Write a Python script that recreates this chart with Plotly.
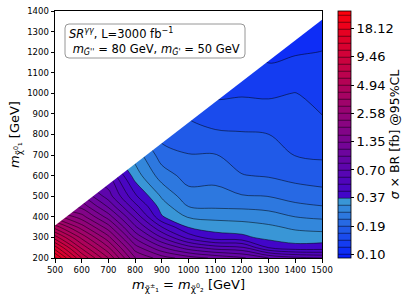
import numpy as np
import plotly.graph_objects as go

# ---------------- data ----------------
m_chargino = [500, 600, 700, 800, 900, 1000, 1100, 1200, 1300, 1400, 1500]
m_neutralino = [200, 250, 300, 350, 400, 450, 500, 600, 700, 800, 900,
                1000, 1100, 1200, 1300, 1400]

# 95% CL upper limit on sigma x BR [fb]; rows follow m_neutralino, columns m_chargino
limit_200 = [19.0, 8.0, 4.2, 1.87, 1.46, 1.24, 1.11, 1.0, 0.827, 0.74, 0.703]
limit_250 = [12.0, 5.6, 3.1, 1.46, 1.0, 0.76, 0.65, 0.617, 0.432, 0.388, 0.392]
limit_300 = [7.4, 4.0, 2.3, 1.11, 0.70, 0.476, 0.392, 0.382, 0.348, 0.339, 0.341]
limit_350 = [4.6, 2.8, 1.7, 0.855, 0.51, 0.364, 0.344, 0.335, 0.322, 0.302, 0.291]
limit_400 = [2.8, 2.0, 1.25, 0.68, 0.373, 0.307, 0.297, 0.294, 0.284, 0.265, 0.258]
limit_450 = [None, 1.5, 0.95, 0.54, 0.339, 0.265, 0.259, 0.257, 0.252, 0.235, 0.227]
limit_500 = [None, 1.15, 0.76, 0.446, 0.305, 0.24, 0.24, 0.228, 0.225, 0.211, 0.205]
limit_600 = [None, None, 0.60, 0.339, 0.245, 0.211, 0.213, 0.193, 0.189, 0.181, 0.176]
limit_700 = [None, None, None, 0.292, 0.208, 0.193, 0.193, 0.178, 0.175, 0.162, 0.159]
limit_800 = [None, None, None, None, 0.180, 0.172, 0.169, 0.165, 0.163, 0.154, 0.148]
limit_900 = [None, None, None, None, None, 0.160, 0.145, 0.150, 0.148, 0.146, 0.138]
limit_1000 = [None, None, None, None, None, None, 0.136, 0.136, 0.135, 0.139, 0.131]
limit_1100 = [None, None, None, None, None, None, None, 0.128, 0.123, 0.126, 0.124]
limit_1200 = [None, None, None, None, None, None, None, None, 0.112, 0.116, 0.118]
limit_1300 = [None, None, None, None, None, None, None, None, None, 0.110, 0.112]
limit_1400 = [None, None, None, None, None, None, None, None, None, None, 0.107]

limit_rows = [limit_200, limit_250, limit_300, limit_350, limit_400, limit_450,
              limit_500, limit_600, limit_700, limit_800, limit_900, limit_1000,
              limit_1100, limit_1200, limit_1300, limit_1400]

cbar_tick_values = [0.10, 0.19, 0.37, 0.70, 1.35, 2.58, 4.94, 9.46, 18.12]
cbar_tick_labels = ["0.10", "0.19", "0.37", "0.70", "1.35", "2.58", "4.94", "9.46", "18.12"]

mass_gap = 142  # kinematic edge of the scanned grid (GeV)

# ---------------- figure ----------------
z = np.log10(np.array(limit_rows, dtype=float))

lo = np.log10(cbar_tick_values[0])
hi = np.log10(cbar_tick_values[-1])
step = (hi - lo) / 32.0
top = lo + 34 * step

cut = 0.243
colorscale = [
    [0.0, "rgb(8,30,250)"],
    [cut, "rgb(60,158,212)"],
    [cut, "rgb(62,6,205)"],
    [1.0, "rgb(252,0,12)"],
]

FONT = "DejaVu Sans"

fig = go.Figure()
fig.add_trace(go.Contour(
    x=m_chargino, y=m_neutralino, z=z,
    connectgaps=True,
    colorscale=colorscale,
    contours=dict(start=lo, end=top, size=step, coloring="fill", showlines=True),
    line=dict(color="black", width=0.5),
    hoverinfo="skip",
    colorbar=dict(
        x=1.06, xanchor="left", xpad=0,
        y=0.5, yanchor="middle", len=1.0, lenmode="fraction", ypad=0,
        thickness=13,
        outlinecolor="black", outlinewidth=0.8,
        tickmode="array",
        tickvals=list(np.log10(cbar_tick_values)),
        ticktext=cbar_tick_labels,
        ticks="outside", ticklen=3, tickcolor="black",
        ticklabeloverflow="allow",
        tickfont=dict(family=FONT, size=13, color="black"),
        title=dict(text="<i>σ</i> × BR [fb] @95%CL", side="right",
                   font=dict(family=FONT, size=12.5, color="black")),
    ),
))

# white mask above the kinematic edge
x0, x1 = m_chargino[0] - 100, m_chargino[-1] + 100
ytop = m_neutralino[-1] + 100
fig.add_trace(go.Scatter(
    x=[x0, x1, x1, x0], y=[x0 - mass_gap, x1 - mass_gap, ytop, ytop],
    mode="lines", fill="toself", fillcolor="white",
    line=dict(width=0, color="white"),
    hoverinfo="skip", showlegend=False,
))

axis_common = dict(
    showline=True, linecolor="black", linewidth=1, mirror=True,
    ticks="outside", ticklen=3.5, tickcolor="black", tickwidth=1,
    showgrid=False, zeroline=False, automargin=False,
    ticklabeloverflow="allow",
    tickfont=dict(family=FONT, size=8.5, color="black"),
)

fig.update_xaxes(range=[500, 1500], tickvals=list(range(500, 1501, 100)),
                 title=dict(text="<i>m</i><sub>χ̃<sup>±</sup>₁</sub> = <i>m</i><sub>χ̃<sup>0</sup>₂</sub> [GeV]",
                            font=dict(family=FONT, size=13, color="black"), standoff=6),
                 **axis_common)
fig.update_yaxes(range=[200, 1400], tickvals=list(range(200, 1401, 100)),
                 title=dict(text="<i>m</i><sub>χ̃<sup>0</sup>₁</sub> [GeV]",
                            font=dict(family=FONT, size=13, color="black"), standoff=4),
                 **axis_common)

# rounded legend-like text box
bx0, bx1 = (65 - 55) / 267, (245 - 55) / 267
by0, by1 = (258 - 58) / 247, (258 - 24) / 247
rx, ry = 4 / 267, 4 / 247
path = (f"M {bx0+rx},{by0} L {bx1-rx},{by0} Q {bx1},{by0} {bx1},{by0+ry} "
        f"L {bx1},{by1-ry} Q {bx1},{by1} {bx1-rx},{by1} L {bx0+rx},{by1} "
        f"Q {bx0},{by1} {bx0},{by1-ry} L {bx0},{by0+ry} Q {bx0},{by0} {bx0+rx},{by0} Z")
fig.add_shape(type="path", path=path, xref="paper", yref="paper",
              line=dict(color="rgb(150,150,150)", width=1), fillcolor="white", layer="above")

fig.add_annotation(
    xref="paper", yref="paper", x=(67 - 55) / 267, y=(258 - 41) / 247,
    xanchor="left", yanchor="middle", align="left", showarrow=False,
    text=("<i>SR</i><sup><i>γγ</i></sup>, L=3000 fb<sup>−1</sup><br>"
          " <i>m</i><sub><i>G̃''</i></sub> = 80 GeV, <i>m</i><sub><i>G̃'</i></sub> = 50 GeV"),
    font=dict(family=FONT, size=11.5, color="black"),
)

fig.update_layout(
    width=415, height=300,
    margin=dict(l=55, r=93, t=11, b=42, autoexpand=False),
    paper_bgcolor="white", plot_bgcolor="white",
    font=dict(family=FONT, color="black"),
    showlegend=False,
)

fig.write_html("out.html", config={"displayModeBar": False, "staticPlot": True},
               post_script="document.body.style.margin='0';")
